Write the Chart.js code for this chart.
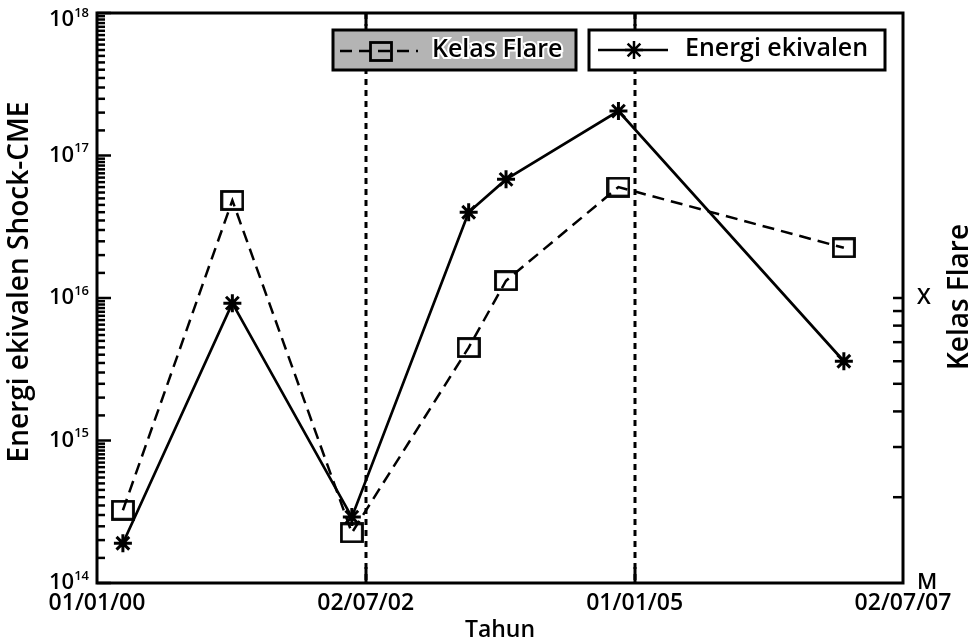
<!DOCTYPE html>
<html>
<head>
<meta charset="utf-8">
<script src="https://cdn.jsdelivr.net/npm/chart.js@4.4.1/dist/chart.umd.min.js"></script>
<style>
  html, body { margin: 0; padding: 0; background: #fff; }
</style>
</head>
<body>
<canvas id="myChart" width="977" height="644"></canvas>
<script>
// data
const eventDates = ['2000-03-29', '2001-04-05', '2002-05-16', '2003-06-17', '2003-10-22', '2004-11-07', '2006-12-13'];
const energyValues = [1.9e14, 9.2e15, 2.9e14, 4.0e16, 6.8e16, 2.05e17, 3.6e15];
const flareFlux = [1.8e-5, 2.2e-4, 1.5e-5, 6.7e-5, 1.15e-4, 2.45e-4, 1.5e-4];

const xTickDates = ['2000-01-01', '2002-07-02', '2005-01-01', '2007-07-02'];
const xTickLabels = ['01/01/00', '02/07/02', '01/01/05', '02/07/07'];
const markerDates = ['2002-07-02', '2005-01-01'];
const yTickExponents = [14, 15, 16, 17, 18];
const flareTicks = [1e-5, 1e-4];
const flareTickLabels = ['M', 'X'];
const flareMinor = [2e-5, 3e-5, 4e-5, 5e-5, 6e-5, 7e-5, 8e-5, 9e-5];

const FONT = "'Open Sans', 'Noto Sans', sans-serif";
const W = '600 ';
const t = (d) => Date.parse(d + 'T00:00:00Z');

// hollow box marker, a little wider than tall
function makeSquare() {
  const c = document.createElement('canvas');
  c.width = 24;
  c.height = 21;
  const g = c.getContext('2d');
  g.strokeStyle = '#000';
  g.lineWidth = 2.8;
  g.strokeRect(1.5, 1.5, 21, 18);
  return c;
}
const squareMarker = makeSquare();

const boxPlugin = {
  id: 'boxPlugin',
  beforeDatasetsDraw(chart) {
    const ctx = chart.ctx;
    const a = chart.chartArea;
    const x = chart.scales.x;
    ctx.save();
    ctx.strokeStyle = '#000';
    ctx.lineWidth = 3;
    ctx.setLineDash([6, 5]);
    markerDates.forEach((d) => {
      const px = Math.round(x.getPixelForValue(t(d)));
      ctx.beginPath();
      ctx.moveTo(px, a.top);
      ctx.lineTo(px, a.bottom);
      ctx.stroke();
    });
    ctx.restore();
  },
  afterDraw(chart) {
    const ctx = chart.ctx;
    const a = chart.chartArea;
    const x = chart.scales.x;
    const y = chart.scales.y;
    const y2 = chart.scales.y2;
    ctx.save();
    ctx.strokeStyle = '#000';
    ctx.lineWidth = 3;
    ctx.setLineDash([]);
    ctx.strokeRect(a.left, a.top, a.right - a.left, a.bottom - a.top);

    // x ticks pointing in, top and bottom
    markerDates.forEach((d) => {
      const px = Math.round(x.getPixelForValue(t(d)));
      ctx.beginPath();
      ctx.moveTo(px, a.bottom);
      ctx.lineTo(px, a.bottom - 16);
      ctx.moveTo(px, a.top);
      ctx.lineTo(px, a.top + 13);
      ctx.stroke();
    });

    // left axis: decades long, halves short
    ctx.lineWidth = 2.5;
    yTickExponents.forEach((e) => {
      const py = y.getPixelForValue(Math.pow(10, e));
      ctx.beginPath();
      ctx.moveTo(a.left, py);
      ctx.lineTo(a.left + 14, py);
      ctx.stroke();
      if (e === yTickExponents[yTickExponents.length - 1]) return;
      for (let k = 1.5; k < 10; k += 0.5) {
        const pm = y.getPixelForValue(k * Math.pow(10, e));
        ctx.beginPath();
        ctx.moveTo(a.left, pm);
        ctx.lineTo(a.left + 8, pm);
        ctx.stroke();
      }
    });

    // right axis ticks between M and X
    flareMinor.concat([flareTicks[1]]).forEach((v) => {
      const py = y2.getPixelForValue(v);
      ctx.beginPath();
      ctx.moveTo(a.right, py);
      ctx.lineTo(a.right - 10, py);
      ctx.stroke();
    });

    // left tick labels 10^n
    ctx.fillStyle = '#000';
    ctx.textBaseline = 'middle';
    yTickExponents.forEach((e) => {
      let py = y.getPixelForValue(Math.pow(10, e));
      py = Math.max(py, 20);
      const exp = String(e);
      ctx.font = W + '13px ' + FONT;
      const ew = ctx.measureText(exp).width;
      ctx.textAlign = 'right';
      ctx.fillText(exp, 89, py - 7);
      ctx.font = W + '22px ' + FONT;
      ctx.fillText('10', 89 - ew, py);
    });

    // axis titles
    ctx.textAlign = 'center';
    ctx.font = W + '28px ' + FONT;
    ctx.save();
    ctx.translate(20, 282);
    ctx.rotate(-Math.PI / 2);
    ctx.fillText('Energi ekivalen Shock-CME', 0, 0);
    ctx.restore();
    ctx.save();
    ctx.translate(960, 297);
    ctx.rotate(-Math.PI / 2);
    ctx.fillText('Kelas Flare', 0, 0);
    ctx.restore();

    // legend boxes
    const flare = chart.data.datasets[0];
    const energy = chart.data.datasets[1];
    ctx.lineWidth = 3;
    ctx.fillStyle = '#b4b4b4';
    ctx.fillRect(333, 30, 243, 40);
    ctx.strokeRect(333, 30, 243, 40);
    ctx.fillStyle = '#fff';
    ctx.fillRect(589, 30, 296, 40);
    ctx.strokeRect(589, 30, 296, 40);

    ctx.lineWidth = 2.5;
    ctx.setLineDash([12, 7]);
    ctx.beginPath();
    ctx.moveTo(340, 51);
    ctx.lineTo(418, 51);
    ctx.stroke();
    ctx.setLineDash([]);
    ctx.drawImage(squareMarker, 381 - 12, 51 - 10);

    ctx.beginPath();
    ctx.moveTo(598, 50);
    ctx.lineTo(668, 50);
    ctx.stroke();
    Chart.helpers.drawPoint(ctx, { pointStyle: 'star', radius: 9, borderWidth: 3 }, 634, 50);

    ctx.font = W + '25px ' + FONT;
    ctx.textAlign = 'left';
    ctx.textBaseline = 'middle';
    ctx.lineWidth = 4;
    ctx.strokeStyle = '#fff';
    ctx.strokeText(flare.label, 432, 50);
    ctx.fillStyle = '#000';
    ctx.fillText(flare.label, 432, 50);
    ctx.fillText(energy.label, 685, 49);
    ctx.restore();
  },
};

const chart = new Chart(document.getElementById('myChart'), {
  type: 'line',
  data: {
    datasets: [
      {
        label: 'Kelas Flare',
        data: eventDates.map((d, i) => ({ x: t(d), y: flareFlux[i] })),
        yAxisID: 'y2',
        borderColor: '#000',
        borderWidth: 2.5,
        borderDash: [12, 7],
        pointStyle: squareMarker,
        pointRadius: 10,
        tension: 0,
      },
      {
        label: 'Energi ekivalen',
        data: eventDates.map((d, i) => ({ x: t(d), y: energyValues[i] })),
        yAxisID: 'y',
        borderColor: '#000',
        backgroundColor: '#000',
        borderWidth: 2.7,
        pointStyle: 'star',
        pointRadius: 9,
        pointBorderWidth: 3,
        pointBorderColor: '#000',
        tension: 0,
      },
    ],
  },
  options: {
    responsive: false,
    animation: false,
    devicePixelRatio: 1,
    layout: { padding: { top: 13, left: 0, right: 0, bottom: 0 } },
    plugins: { legend: { display: false }, tooltip: { enabled: false } },
    scales: {
      x: {
        type: 'linear',
        min: t(xTickDates[0]),
        max: t(xTickDates[xTickDates.length - 1]),
        afterBuildTicks: (axis) => {
          axis.ticks = xTickDates.map((d) => ({ value: t(d) }));
        },
        afterFit: (axis) => {
          axis.height = 61;
          axis.paddingLeft = 0;
          axis.paddingRight = 0;
        },
        ticks: {
          autoSkip: false,
          maxRotation: 0,
          padding: 7,
          color: '#000',
          font: { family: FONT, size: 23, weight: '600' },
          callback: (v) => {
            const i = xTickDates.findIndex((d) => t(d) === v);
            return i >= 0 ? xTickLabels[i] : '';
          },
        },
        grid: { display: false, drawTicks: false },
        border: { display: false },
        title: {
          display: true,
          text: 'Tahun',
          color: '#000',
          font: { family: FONT, size: 23, weight: '600' },
          padding: { top: 0, bottom: 0 },
        },
      },
      y: {
        type: 'logarithmic',
        position: 'left',
        min: 1e14,
        max: 1e18,
        afterBuildTicks: (axis) => {
          axis.ticks = yTickExponents.map((e) => ({ value: Math.pow(10, e) }));
        },
        afterFit: (axis) => {
          axis.width = 97;
          axis.paddingTop = 0;
          axis.paddingBottom = 0;
        },
        ticks: { display: false },
        grid: { display: false, drawTicks: false },
        border: { display: false },
      },
      y2: {
        type: 'logarithmic',
        position: 'right',
        min: 1e-5,
        max: 1e-3,
        afterBuildTicks: (axis) => {
          axis.ticks = flareTicks.map((v) => ({ value: v }));
        },
        afterFit: (axis) => {
          axis.width = 74;
          axis.paddingTop = 0;
          axis.paddingBottom = 0;
        },
        ticks: {
          padding: 14,
          color: '#000',
          font: { family: FONT, size: 22, weight: '600' },
          callback: (v) => {
            const i = flareTicks.indexOf(v);
            return i >= 0 ? flareTickLabels[i] : '';
          },
        },
        grid: { display: false, drawTicks: false },
        border: { display: false },
      },
    },
  },
  plugins: [boxPlugin],
});
</script>
</body>
</html>
